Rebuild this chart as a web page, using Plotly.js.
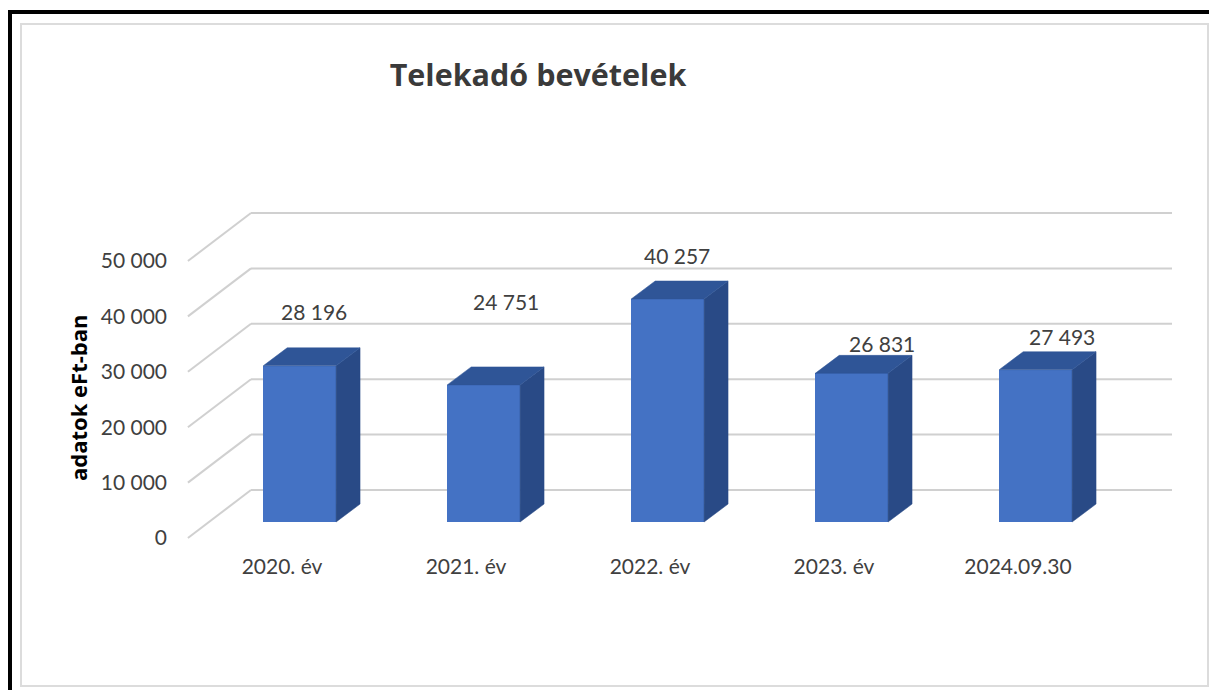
<!DOCTYPE html>
<html>
<head>
<meta charset="utf-8">
<script src="https://cdn.plot.ly/plotly-3.0.1.min.js"></script>
<style>
  html, body { margin: 0; padding: 0; background: #fff; }
  #wrap { position: relative; width: 1209px; height: 690px; overflow: hidden; }
  #chart { position: absolute; left: 0; top: 0; width: 1209px; height: 690px; }
  #outer { position: absolute; left: 8px; top: 10px; width: 1400px; height: 800px;
           border-left: 4px solid #000; border-top: 4px solid #000; pointer-events: none; }
  #inner { position: absolute; left: 20px; top: 23px; width: 1185px; height: 660px;
           border: 2px solid #dcdcdc; pointer-events: none; }
</style>
</head>
<body>
<div id="wrap">
  <div id="chart"></div>
  <div id="outer"></div>
  <div id="inner"></div>
</div>
<script>
// ---- data ----
const categories = ["2020. év", "2021. év", "2022. év", "2023. év", "2024.09.30"];
const values = [28196, 24751, 40257, 26831, 27493];
const valueLabels = ["28 196", "24 751", "40 257", "26 831", "27 493"];
const yTickValues = [0, 10000, 20000, 30000, 40000, 50000];
const yTickLabels = ["0", "10 000", "20 000", "30 000", "40 000", "50 000"];

// ---- style / geometry (pseudo-3D projection) ----
const depthX = 0.3478;      // horizontal shift of full depth (x units)
const depthY = 8664;        // vertical shift of full depth (y units)
const dF = 1 / 3, dB = 0.708; // bar front / back depth fractions
const halfW = 0.198, barShift = -0.02;
const xRange = [-0.5163, 4.837];
const yRange = [-541, 60108];
const labelDX = [14, 22, 9, 30, 26];   // data label offsets (px)
const labelDY = [54, 83, 43, 30, 33];
const colFront = "#4472c4", colTop = "#2f5597", colSide = "#294a86";
const txt = "#404040";
const numFont = "Lato, 'Open Sans', sans-serif";

const idx = categories.map((_, i) => i);
const base = dF * depthY;
const ddx = (dB - dF) * depthX, ddy = (dB - dF) * depthY;

const traces = [];
// front faces as real bars
traces.push({
  type: "bar",
  x: idx.map(i => i + barShift + dF * depthX),
  y: values,
  base: base,
  width: 2 * halfW,
  marker: { color: colFront, line: { width: 0 } },
  hoverinfo: "skip",
  showlegend: false
});
// side and top faces
values.forEach((v, i) => {
  const xl = i + barShift + dF * depthX - halfW;
  const xr = xl + 2 * halfW;
  const top = base + v;
  traces.push({
    type: "scatter", mode: "lines", fill: "toself",
    x: [xr, xr, xr + ddx, xr + ddx, xr],
    y: [base, top, top + ddy, base + ddy, base],
    fillcolor: colSide, line: { width: 0.5, color: colSide },
    hoverinfo: "skip", showlegend: false
  });
  traces.push({
    type: "scatter", mode: "lines", fill: "toself",
    x: [xl, xr, xr + ddx, xl + ddx, xl],
    y: [top, top, top + ddy, top + ddy, top],
    fillcolor: colTop, line: { width: 0.5, color: colTop },
    hoverinfo: "skip", showlegend: false
  });
});

// back wall gridlines + side wall diagonals
const shapes = [];
yTickValues.forEach(v => {
  shapes.push({ type: "line", xref: "x", yref: "y", layer: "below",
    x0: xRange[0] + depthX, y0: v + depthY, x1: xRange[1], y1: v + depthY,
    line: { color: "#d0d0d0", width: 2 } });
  shapes.push({ type: "line", xref: "x", yref: "y", layer: "below",
    x0: xRange[0] + 0.005, y0: v, x1: xRange[0] + depthX, y1: v + depthY,
    line: { color: "#d0d0d0", width: 2 } });
});

const annotations = values.map((v, i) => ({
  x: i + barShift + dF * depthX, y: base + v, xref: "x", yref: "y",
  text: valueLabels[i], showarrow: false,
  xanchor: "center", yanchor: "middle",
  xshift: labelDX[i], yshift: labelDY[i],
  font: { family: numFont, size: 21, color: txt }
}));
annotations.push({
  text: "adatok eFt-ban", textangle: -90, showarrow: false,
  xref: "paper", yref: "paper", x: -0.1107, y: 0.4256,
  xanchor: "center", yanchor: "middle",
  font: { family: "'Open Sans', sans-serif", size: 22, color: "#000", weight: "bold" }
});

const layout = {
  width: 1209, height: 690,
  margin: { l: 187, r: 37, t: 205, b: 149 },
  paper_bgcolor: "#ffffff", plot_bgcolor: "rgba(0,0,0,0)",
  title: {
    text: "<b>Telekadó bevételek</b>",
    xref: "container", yref: "container",
    x: 538 / 1209, y: 1 - 75 / 690, xanchor: "center", yanchor: "middle",
    font: { family: "'Open Sans', sans-serif", size: 30.5, color: "#3a3a3a" }
  },
  xaxis: {
    range: xRange, showgrid: false, zeroline: false, showline: false,
    tickvals: idx, ticktext: categories, ticks: "",
    ticklabelstandoff: 11,
    tickfont: { family: numFont, size: 21, color: txt },
    fixedrange: true
  },
  yaxis: {
    range: yRange, showgrid: false, zeroline: false, showline: false,
    tickvals: yTickValues, ticktext: yTickLabels, ticks: "",
    ticklabelstandoff: 19,
    tickfont: { family: numFont, size: 21, color: txt },
    fixedrange: true
  },
  shapes: shapes,
  annotations: annotations,
  showlegend: false,
  bargap: 0
};

Plotly.newPlot("chart", traces, layout, { displayModeBar: false, staticPlot: true });
</script>
</body>
</html>
